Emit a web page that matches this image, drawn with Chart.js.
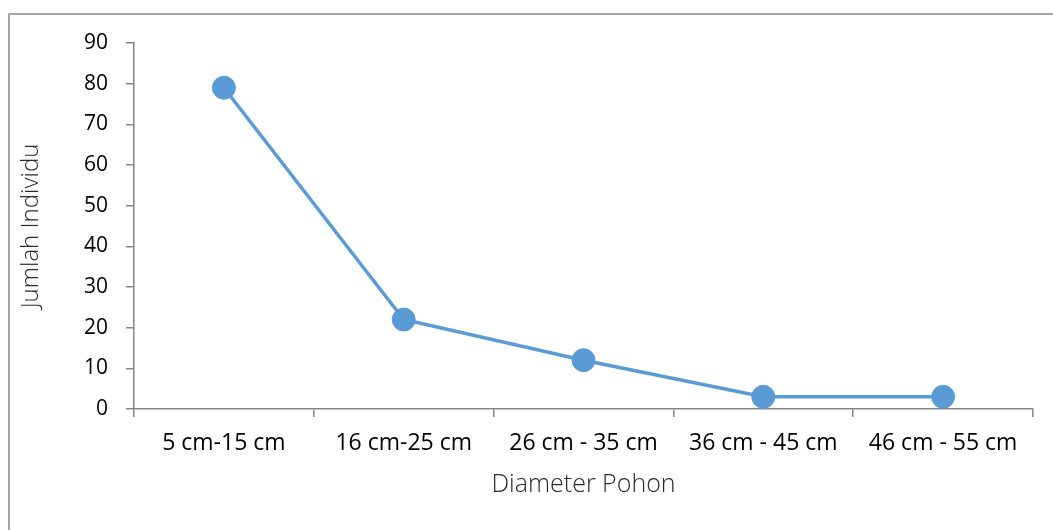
<!DOCTYPE html>
<html>
<head>
<meta charset="utf-8">
<script src="https://cdn.jsdelivr.net/npm/chart.js@4"></script>
<style>
  html, body { margin: 0; padding: 0; background: #fff; }
  #wrap { position: relative; width: 1053px; height: 530px; }
  #frame { position: absolute; left: 8px; top: 13px; right: -5px; bottom: -5px;
           border-left: 2px solid #a6a6a6; border-top: 2px solid #a6a6a6; }
  canvas { position: absolute; left: 0; top: 0; }
</style>
</head>
<body>
<div id="wrap">
  <div id="frame"></div>
  <canvas id="chart" width="1053" height="530"></canvas>
</div>
<script>
const categories = ['5 cm-15 cm', '16 cm-25 cm', '26 cm - 35 cm', '36 cm - 45 cm', '46 cm - 55 cm'];
const jumlahIndividu = [79, 22, 12, 3, 3];
const xTitle = 'Diameter Pohon';
const yTitle = 'Jumlah Individu';

const blue = '#5b9bd5';
const axisGray = '#868686';
const fontFamily = "'Open Sans', sans-serif";

const ctx = document.getElementById('chart').getContext('2d');
const chart = new Chart(ctx, {
  type: 'line',
  data: {
    labels: categories,
    datasets: [{
      data: jumlahIndividu,
      borderColor: blue,
      backgroundColor: blue,
      pointBackgroundColor: blue,
      pointBorderColor: blue,
      borderWidth: 3.5,
      pointRadius: 11.5,
      pointBorderWidth: 1,
      tension: 0,
      fill: false
    }]
  },
  options: {
    responsive: false,
    animation: false,
    layout: { padding: { left: 0, right: 20, top: 43, bottom: 0 } },
    plugins: { legend: { display: false }, tooltip: { enabled: false } },
    scales: {
      x: {
        offset: true,
        grid: { offset: true, drawOnChartArea: false, drawTicks: true, tickLength: 8, color: axisGray, lineWidth: 1.5 },
        border: { display: true, color: axisGray, width: 1.5 },
        ticks: { color: '#000', font: { family: fontFamily, size: 23 }, padding: 13, maxRotation: 0 },
        title: { display: true, text: xTitle, color: '#2b2b2b', font: { family: fontFamily, size: 25, weight: '300' }, padding: { top: 0, bottom: 30 } },
        afterFit: (scale) => { scale.height = 121; }
      },
      y: {
        min: 0,
        max: 90,
        ticks: { stepSize: 10, color: '#000', font: { family: fontFamily, size: 21 }, padding: 18 },
        grid: { drawOnChartArea: false, drawTicks: true, tickLength: 8, color: axisGray, lineWidth: 1.5 },
        border: { display: true, color: axisGray, width: 1.5 },
        title: { display: true, text: yTitle, color: '#2b2b2b', font: { family: fontFamily, size: 24, weight: '300' }, padding: { top: 17, bottom: 0 } },
        afterFit: (scale) => { scale.width = 134; }
      }
    }
  }
});
</script>
</body>
</html>
